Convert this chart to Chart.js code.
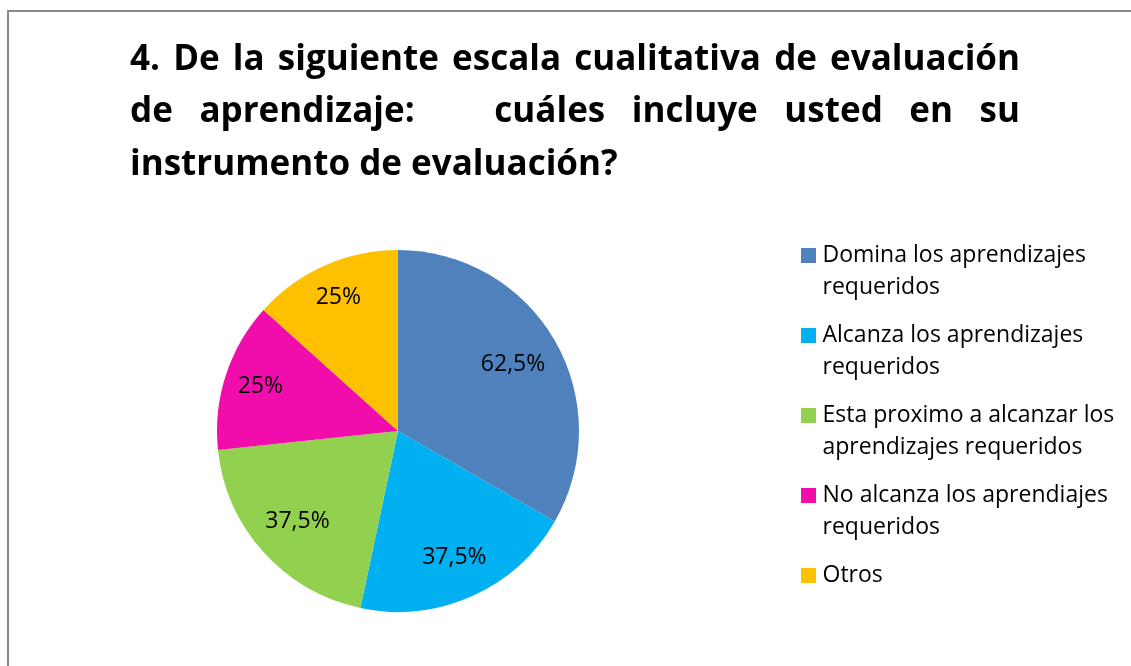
<!DOCTYPE html>
<html lang="es">
<head>
<meta charset="utf-8">
<title>Escala cualitativa de evaluación</title>
<script src="https://cdn.jsdelivr.net/npm/chart.js@4.4.1/dist/chart.umd.min.js"></script>
<style>
  html, body { margin: 0; padding: 0; background: #fff; overflow: hidden; }
  #wrap { position: relative; width: 1131px; height: 666px; }
  #frame {
    position: absolute; left: 7px; top: 10px; width: 1200px; height: 800px;
    border: 2px solid #8a8a8a; box-sizing: border-box;
  }
  #chartPie { position: absolute; left: 0; top: 0; }
</style>
</head>
<body>
<div id="wrap">
  <div id="frame"></div>
  <canvas id="chartPie" width="1131" height="666"></canvas>
</div>
<script>
const titleLines = [
  '4. De la siguiente escala cualitativa de evaluación',
  'de aprendizaje:   cuáles incluye usted en su',
  'instrumento de evaluación?',
];

const categories = [
  ['Domina los aprendizajes', 'requeridos'],
  ['Alcanza los aprendizajes', 'requeridos'],
  ['Esta proximo a alcanzar los', 'aprendizajes requeridos'],
  ['No alcanza los aprendiajes', 'requeridos'],
  ['Otros'],
];

const percentages = [62.5, 37.5, 37.5, 25, 25];
const percentLabels = ['62,5%', '37,5%', '37,5%', '25%', '25%'];

const sliceColors = ['#4F81BD', '#00B0F0', '#92D050', '#F10DAC', '#FFC000'];
const labelRadius = [0.734, 0.766, 0.747, 0.8, 0.81];

const legendFont = { family: 'Open Sans', size: 23, lineHeight: 32 / 23 };
const markWidth = 5; // legend slot for the swatch, the swatch itself is 15px

// width of the longest legend line, so the legend lands where it should
const measureCtx = document.createElement('canvas').getContext('2d');
measureCtx.font = `${legendFont.size}px "${legendFont.family}"`;
const longestLine = Math.max(...categories.flat().map((t) => measureCtx.measureText(t).width));
const legendLeft = 790;
const legendWidth = 16 + markWidth + legendFont.size / 2 + longestLine + 10;
const rightPad = Math.max(0, 1131 - legendLeft - legendWidth);

function swatch(color) {
  const c = document.createElement('canvas');
  c.width = 15;
  c.height = 15;
  const g = c.getContext('2d');
  g.fillStyle = color;
  g.fillRect(0, 0, 15, 15);
  return c;
}

const justifiedTitle = {
  id: 'justifiedTitle',
  afterDraw(chart) {
    const { ctx } = chart;
    const left = 130;
    const right = 1020;
    const baselines = [70, 122, 175];
    ctx.save();
    ctx.font = 'bold 35px "Open Sans"';
    ctx.fillStyle = '#000';
    ctx.textBaseline = 'alphabetic';
    ctx.textAlign = 'left';
    titleLines.forEach((line, i) => {
      const words = line.split(' ');
      if (i === titleLines.length - 1) {
        ctx.fillText(line, left, baselines[i]);
        return;
      }
      const wordsWidth = words.reduce((sum, w) => sum + ctx.measureText(w).width, 0);
      const gap = (right - left - wordsWidth) / (words.length - 1);
      let x = left;
      words.forEach((w) => {
        ctx.fillText(w, x, baselines[i]);
        x += ctx.measureText(w).width + gap;
      });
    });
    ctx.restore();
  },
};

const sliceLabels = {
  id: 'sliceLabels',
  afterDatasetsDraw(chart) {
    const { ctx } = chart;
    const meta = chart.getDatasetMeta(0);
    ctx.save();
    ctx.font = '23px "Open Sans"';
    ctx.fillStyle = '#000';
    ctx.textAlign = 'center';
    ctx.textBaseline = 'middle';
    meta.data.forEach((arc, i) => {
      const { x, y, startAngle, endAngle, outerRadius } = arc.getProps(
        ['x', 'y', 'startAngle', 'endAngle', 'outerRadius'],
        true,
      );
      const mid = (startAngle + endAngle) / 2;
      const r = outerRadius * labelRadius[i];
      ctx.fillText(percentLabels[i], x + Math.cos(mid) * r, y + Math.sin(mid) * r);
    });
    ctx.restore();
  },
};

const context = document.getElementById('chartPie').getContext('2d');

new Chart(context, {
  type: 'pie',
  data: {
    labels: categories,
    datasets: [
      {
        data: percentages,
        backgroundColor: sliceColors,
        borderWidth: 0,
        radius: 181,
      },
    ],
  },
  options: {
    responsive: false,
    animation: false,
    layout: {
      padding: { top: 228, bottom: 32, left: 6, right: rightPad },
    },
    plugins: {
      legend: {
        position: 'right',
        align: 'start',
        labels: {
          usePointStyle: true,
          pointStyleWidth: markWidth,
          boxHeight: 15,
          padding: 16,
          color: '#000',
          font: legendFont,
          generateLabels: (chart) =>
            chart.data.labels.map((text, i) => ({
              text,
              fillStyle: sliceColors[i],
              strokeStyle: sliceColors[i],
              fontColor: '#000',
              lineWidth: 0,
              pointStyle: swatch(sliceColors[i]),
              hidden: !chart.getDataVisibility(i),
              index: i,
            })),
        },
      },
      tooltip: { enabled: false },
      title: { display: false },
    },
  },
  plugins: [justifiedTitle, sliceLabels],
});
</script>
</body>
</html>
